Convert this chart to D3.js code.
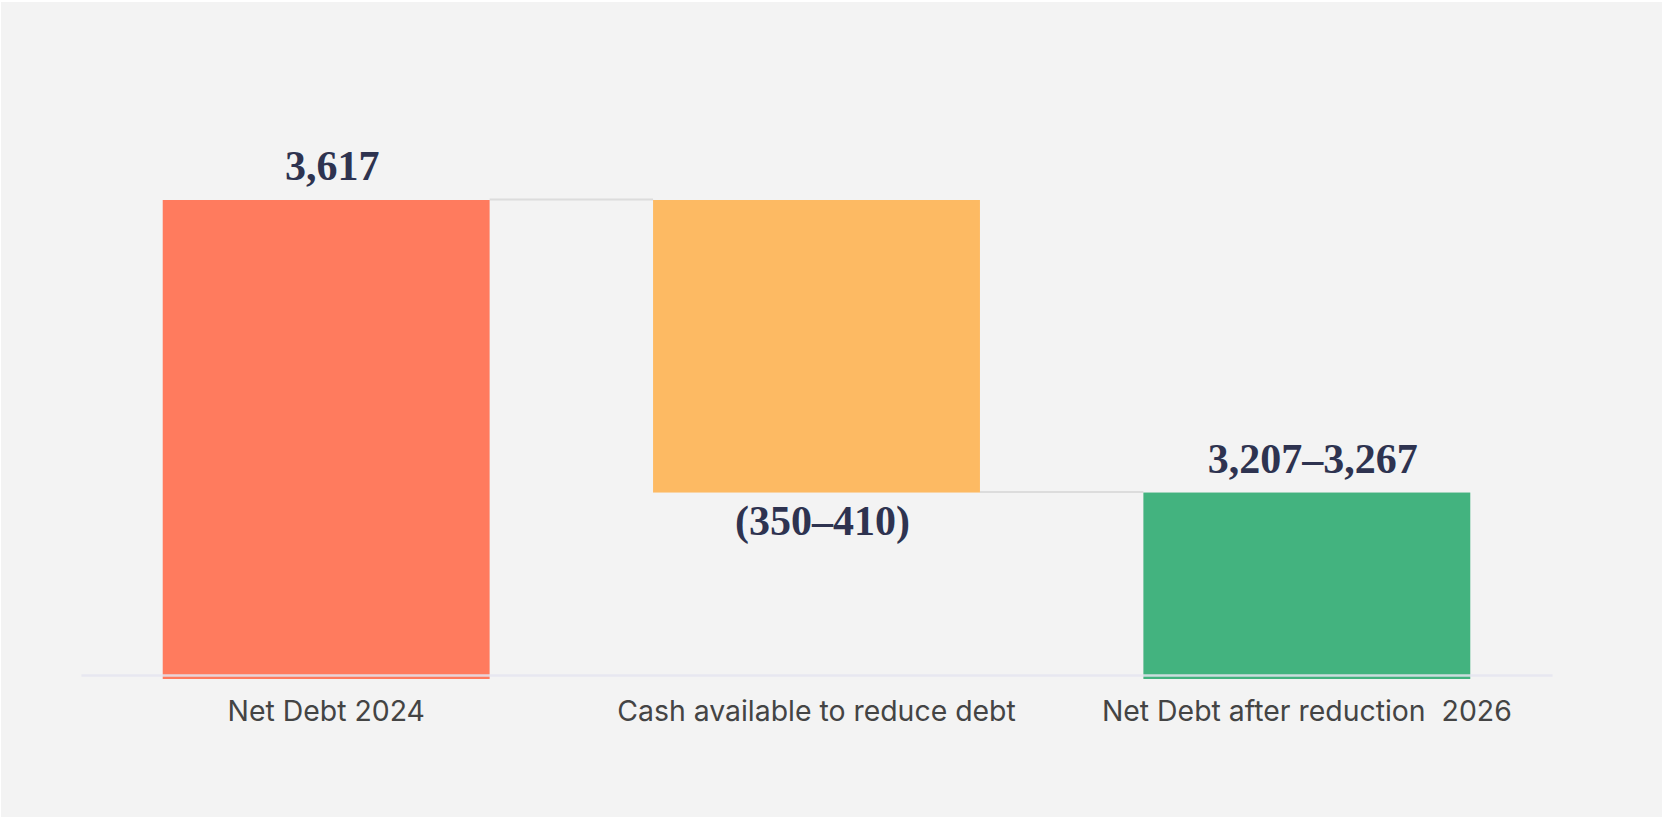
<!DOCTYPE html>
<html>
<head>
<meta charset="utf-8">
<script src="https://cdn.jsdelivr.net/npm/d3@7"></script>
<style>
  html, body { margin: 0; padding: 0; background: #ffffff; }
  svg { display: block; }
</style>
</head>
<body>
<svg id="chart" width="1662" height="817"></svg>
<script>
// ---- Data ----
const categories = ["Net Debt 2024", "Cash available to reduce debt", "Net Debt after reduction  2026"];
const netDebtStart = 3617;
const reductionLow = 350;
const reductionHigh = 410;
const netDebtEndLow = 3207;
const netDebtEndHigh = 3267;
const valueLabels = ["3,617", "(350–410)", "3,207–3,267"];
const yDomain = [3000, 3700];

// ---- Derived waterfall steps (midpoint of ranges) ----
const reductionMid = (reductionLow + reductionHigh) / 2;
const netDebtEnd = (netDebtEndLow + netDebtEndHigh) / 2;
const steps = [
  { cat: categories[0], y0: yDomain[0], y1: netDebtStart, label: valueLabels[0], kind: "total", color: "#ff7b5e" },
  { cat: categories[1], y0: netDebtStart - reductionMid, y1: netDebtStart, label: valueLabels[1], kind: "neg", color: "#fdba63" },
  { cat: categories[2], y0: yDomain[0], y1: netDebtEnd, label: valueLabels[2], kind: "total", color: "#43b37f" }
];

const svg = d3.select("#chart");
svg.append("rect").attr("x", 1).attr("y", 2).attr("width", 1661).attr("height", 815).attr("fill", "#f3f3f3");

const x = d3.scaleBand().domain(categories).range([81, 1552]).paddingInner(1/3).paddingOuter(1/6);
const baseY = 675;
const pxPerUnit = (baseY - 200) / (netDebtStart - yDomain[0]);
const y = d3.scaleLinear().domain(yDomain).range([baseY, baseY - pxPerUnit * (yDomain[1] - yDomain[0])]);

// connectors
const conn = [
  { from: steps[0], to: steps[1], v: netDebtStart },
  { from: steps[1], to: steps[2], v: netDebtStart - reductionMid }
];
svg.selectAll("line.conn").data(conn).enter().append("line")
  .attr("class", "conn")
  .attr("x1", d => x(d.from.cat) + x.bandwidth())
  .attr("x2", d => x(d.to.cat))
  .attr("y1", d => y(d.v) - 0.5)
  .attr("y2", d => y(d.v) - 0.5)
  .attr("stroke", "#dcdcdc")
  .attr("stroke-width", 2);

// bars
svg.selectAll("rect.bar").data(steps).enter().append("rect")
  .attr("class", "bar")
  .attr("x", d => x(d.cat))
  .attr("width", x.bandwidth())
  .attr("y", d => y(d.y1))
  .attr("height", d => y(d.y0) - y(d.y1) + (d.kind === "total" ? 4 : 0))
  .attr("fill", d => d.color);

// axis baseline
const xAxis = svg.append("g").attr("transform", `translate(0,${baseY})`)
  .call(d3.axisBottom(x).tickSize(0).tickPadding(24));
xAxis.select(".domain").attr("stroke", "rgba(228,228,238,0.85)").attr("stroke-width", 2.5);
xAxis.selectAll(".tick text")
  .attr("font-family", "Inter, 'Noto Sans', sans-serif")
  .attr("font-size", 28.4)
  .attr("fill", "#444444")
  .attr("dy", 0)
  .attr("y", 46)
  .style("white-space", "pre")
  .attr("xml:space", "preserve");

// value labels
svg.selectAll("text.val").data(steps).enter().append("text")
  .attr("class", "val")
  .attr("x", d => x(d.cat) + x.bandwidth() / 2 + 6)
  .attr("y", d => d.kind === "neg" ? y(d.y0) + 42 : y(d.y1) - 20)
  .attr("text-anchor", "middle")
  .attr("font-family", "'Liberation Serif', 'DejaVu Serif', serif")
  .attr("font-weight", "bold")
  .attr("font-size", 42)
  .attr("fill", "#2e3350")
  .text(d => d.label);
</script>
</body>
</html>
